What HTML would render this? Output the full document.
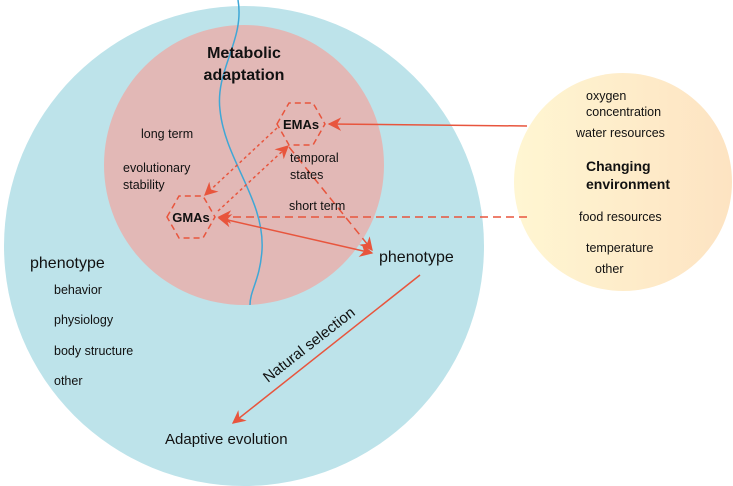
<html><head><style>body{margin:0;background:#fff}text{font-family:"Liberation Sans",sans-serif;fill:#111}</style></head><body>
<svg width="733" height="486" viewBox="0 0 733 486">
<defs>
<linearGradient id="y" x1="0" x2="1"><stop offset="0" stop-color="#fff6d2"/><stop offset="1" stop-color="#fde3c2"/></linearGradient>
<marker id="a" viewBox="0 0 10 10" refX="9" refY="5" markerWidth="9" markerHeight="9" orient="auto-start-reverse"><path d="M0,0L10,5L0,10L3,5z" fill="#e8553d"/></marker>
</defs>
<circle cx="244" cy="246" r="240" fill="#bde3ea"/>
<circle cx="244" cy="165" r="140" fill="#e2b8b6"/>
<circle cx="623" cy="182" r="109" fill="url(#y)"/>
<path d="M238,0 C245,40 215,70 220,110 C225,160 265,200 262,250 C260,280 250,290 250,305" fill="none" stroke="#3fa7d6" stroke-width="1.5"/>
<g fill="none" stroke="#e8553d" stroke-width="1.5">
<polygon points="277,124 289,103 313,103 325,124 313,145 289,145" stroke-dasharray="6,4"/>
<polygon points="167,217 179,196 203,196 215,217 203,238 179,238" stroke-dasharray="6,4"/>
<line x1="527" y1="126" x2="329" y2="124" marker-end="url(#a)"/>
<line x1="527" y1="217" x2="219" y2="217" stroke-dasharray="8,5" marker-end="url(#a)"/>
<line x1="219" y1="218" x2="372" y2="253" marker-start="url(#a)" marker-end="url(#a)"/>
<line x1="289" y1="147" x2="372" y2="250" stroke-dasharray="8,5" marker-end="url(#a)"/>
<line x1="277" y1="128" x2="205" y2="195" stroke-dasharray="3,3" marker-end="url(#a)"/>
<line x1="218" y1="211" x2="288" y2="146" stroke-dasharray="3,3" marker-end="url(#a)"/>
<line x1="420" y1="275" x2="233" y2="423" marker-end="url(#a)"/>
</g>
<text x="244" y="58" font-size="16" font-weight="bold" text-anchor="middle">Metabolic</text>
<text x="244" y="80" font-size="16" font-weight="bold" text-anchor="middle">adaptation</text>
<text x="301" y="129" font-size="13" font-weight="bold" text-anchor="middle">EMAs</text>
<text x="191" y="222" font-size="13" font-weight="bold" text-anchor="middle">GMAs</text>
<g font-size="12.5">
<text x="141" y="138">long term</text>
<text x="123" y="172">evolutionary</text>
<text x="123" y="189">stability</text>
<text x="290" y="162">temporal</text>
<text x="290" y="179">states</text>
<text x="289" y="210">short term</text>
<text x="586" y="100">oxygen</text>
<text x="586" y="116">concentration</text>
<text x="576" y="137">water resources</text>
<text x="579" y="221">food resources</text>
<text x="586" y="252">temperature</text>
<text x="595" y="273">other</text>
<text x="54" y="294">behavior</text>
<text x="54" y="324">physiology</text>
<text x="54" y="355">body structure</text>
<text x="54" y="385">other</text>
</g>
<text x="586" y="171" font-size="14" font-weight="bold">Changing</text>
<text x="586" y="189" font-size="14" font-weight="bold">environment</text>
<text x="30" y="268" font-size="16">phenotype</text>
<text x="379" y="262" font-size="16">phenotype</text>
<text x="165" y="444" font-size="15">Adaptive evolution</text>
<text x="0" y="0" font-size="15" transform="translate(268,383) rotate(-38)">Natural selection</text>
</svg></body></html>
